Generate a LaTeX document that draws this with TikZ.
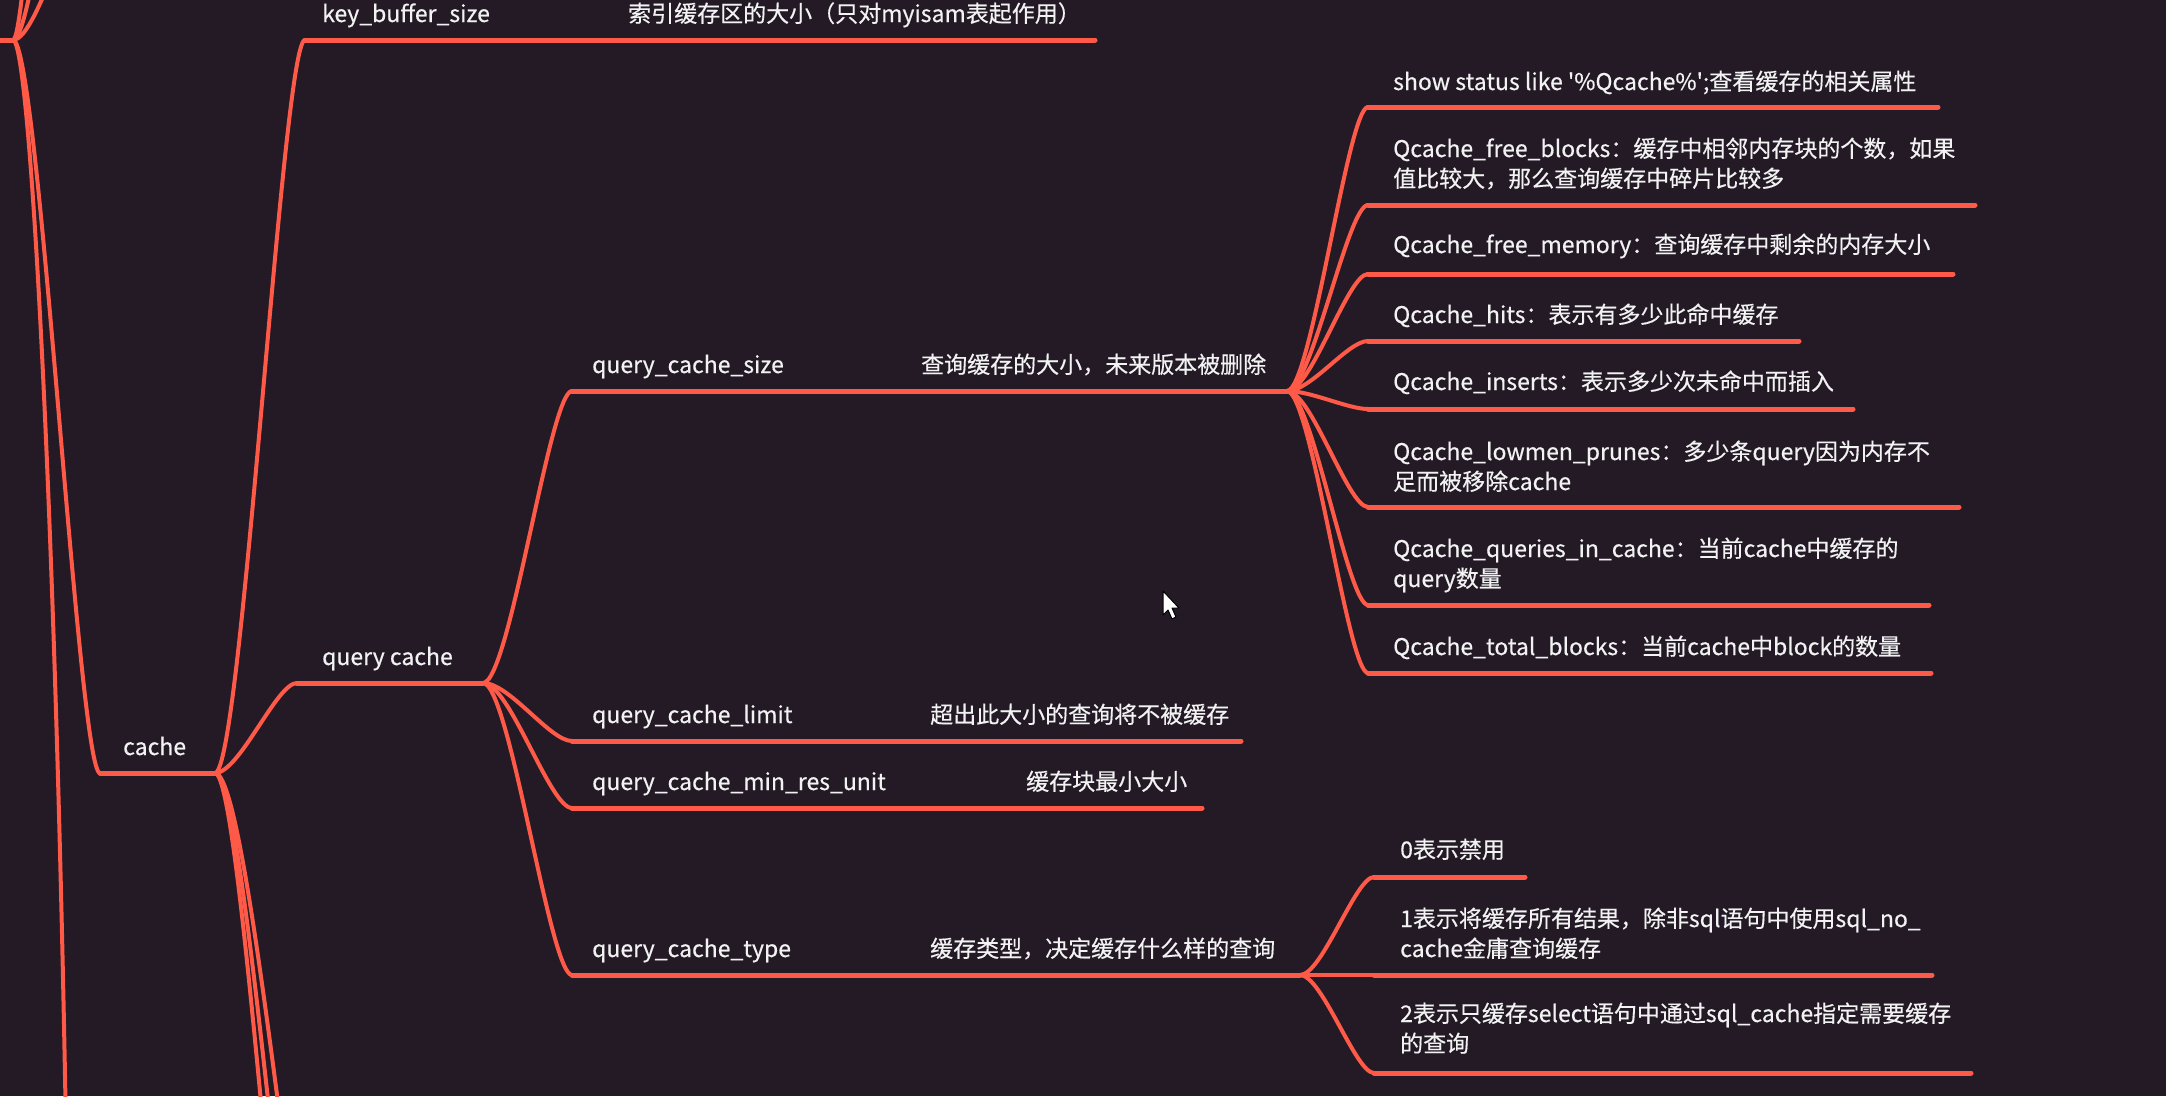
\documentclass[tikz,border=0pt]{standalone}
\usepackage{fontspec}
\setmainfont{Noto Sans CJK SC}[FakeBold=0.4]
\usetikzlibrary{calc}
\definecolor{bgc}{HTML}{231A26}
\definecolor{linec}{HTML}{FF5A48}
\definecolor{txtc}{HTML}{F2F2F2}
\tikzset{
  uline/.style={draw=linec, line width=5pt, line cap=round},
  branch/.style={draw=linec, line width=4pt, line cap=round},
  lbl/.style={anchor=base west, inner sep=0pt, text=txtc, font=\fontsize{23}{30}\selectfont},
}
\newcommand\mmcurve[2]{\draw[branch] (#1) .. controls ($(#1)!0.3!(#2|-#1)$) and ($(#2)!0.25!(#1|-#2)$) .. (#2);}
\newcommand\twoline[2]{\begin{tabular}[t]{@{}l@{}}#1\\#2\end{tabular}}
\begin{document}
\begin{tikzpicture}[x=1pt,y=-1pt]
\useasboundingbox (0,0) rectangle (2166,1096);
\fill[bgc] (0,0) rectangle (2166,1096);
\clip (0,0) rectangle (2166,1096);

% parent (off screen) and its siblings
\coordinate (p0) at (-10,40);
\coordinate (pe) at (13,40);
\draw[uline] (p0) -- (pe);
\coordinate (up1) at (60,-400);
\coordinate (up2) at (80,-250);
\coordinate (up3) at (100,-120);
\mmcurve{pe}{up1}
\mmcurve{pe}{up2}
\mmcurve{pe}{up3}
\coordinate (dn1) at (66,1130);
\draw[branch] (pe) .. controls +(17,0) and +(-11,-630) .. (dn1);

% cache
\coordinate (cs) at (100,773);
\coordinate (ce) at (215,773);
\mmcurve{pe}{cs}
\draw[uline] (cs) -- (ce);
\node[lbl] (cache) at (123,755) {cache};
\coordinate (dc1) at (310,1500);
\coordinate (dc2) at (325,1500);
\coordinate (dc3) at (345,1500);
\mmcurve{ce}{dc1}
\mmcurve{ce}{dc2}
\mmcurve{ce}{dc3}

% key_buffer_size
\coordinate (ks) at (305,40);
\coordinate (ke) at (1095,40);
\mmcurve{ce}{ks}
\draw[uline] (ks) -- (ke);
\node[lbl] (kbs) at (322,22) {key\_buffer\_size};
\node[lbl] (kbsd) at (628,22) {索引缓存区的大小（只对myisam表起作用）};

% query cache
\coordinate (qs) at (297,683);
\coordinate (qe) at (483,683);
\mmcurve{ce}{qs}
\draw[uline] (qs) -- (qe);
\node[lbl] (qc) at (322,665) {query cache};

% query cache children
\coordinate (qss) at (572,391); \coordinate (qse) at (1287,391);
\coordinate (qls) at (572,741); \coordinate (qle) at (1241,741);
\coordinate (qms) at (572,808); \coordinate (qme) at (1202,808);
\coordinate (qts) at (572,975); \coordinate (qte) at (1300,975);
\foreach \s/\e in {qss/qse,qls/qle,qms/qme,qts/qte}{
  \mmcurve{qe}{\s}
  \draw[uline] (\s) -- (\e);
}
\node[lbl] (qcs) at (592,373) {query\_cache\_size};
\node[lbl] (qcsd) at (921,373) {查询缓存的大小，未来版本被删除};
\node[lbl] (qcl) at (592,723) {query\_cache\_limit};
\node[lbl] (qcld) at (930,723) {超出此大小的查询将不被缓存};
\node[lbl] (qcm) at (592,790) {query\_cache\_min\_res\_unit};
\node[lbl] (qcmd) at (1026,790) {缓存块最小大小};
\node[lbl] (qct) at (592,957) {query\_cache\_type};
\node[lbl] (qctd) at (930,957) {缓存类型，决定缓存什么样的查询};

% query_cache_size children
\coordinate (a1s) at (1368,107); \coordinate (a1e) at (1938,107);
\coordinate (a2s) at (1368,205); \coordinate (a2e) at (1975,205);
\coordinate (a3s) at (1368,274); \coordinate (a3e) at (1953,274);
\coordinate (a4s) at (1368,341); \coordinate (a4e) at (1799,341);
\coordinate (a5s) at (1368,409); \coordinate (a5e) at (1853,409);
\coordinate (a6s) at (1368,507); \coordinate (a6e) at (1959,507);
\coordinate (a7s) at (1368,605); \coordinate (a7e) at (1929,605);
\coordinate (a8s) at (1368,673); \coordinate (a8e) at (1931,673);
\foreach \i in {1,...,8}{
  \mmcurve{qse}{a\i s}
  \draw[uline] (a\i s) -- (a\i e);
}
\node[lbl] (a1) at (1393,90) {show status like \textquotesingle\%Qcache\%\textquotesingle;查看缓存的相关属性};
\node[lbl] (a2) at (1393,157) {\twoline{Qcache\_free\_blocks：缓存中相邻内存块的个数，如果}{值比较大，那么查询缓存中碎片比较多}};
\node[lbl] (a3) at (1393,253) {Qcache\_free\_memory：查询缓存中剩余的内存大小};
\node[lbl] (a4) at (1393,323) {Qcache\_hits：表示有多少此命中缓存};
\node[lbl] (a5) at (1393,390) {Qcache\_inserts：表示多少次未命中而插入};
\node[lbl] (a6) at (1393,460) {\twoline{Qcache\_lowmen\_prunes：多少条query因为内存不}{足而被移除cache}};
\node[lbl] (a7) at (1393,557) {\twoline{Qcache\_queries\_in\_cache：当前cache中缓存的}{query数量}};
\node[lbl] (a8) at (1393,655) {Qcache\_total\_blocks：当前cache中block的数量};

% query_cache_type children
\coordinate (b1s) at (1374,877); \coordinate (b1e) at (1525,877);
\coordinate (b2s) at (1374,975); \coordinate (b2e) at (1932,975);
\coordinate (b3s) at (1374,1073); \coordinate (b3e) at (1971,1073);
\foreach \i in {1,2,3}{
  \mmcurve{qte}{b\i s}
  \draw[uline] (b\i s) -- (b\i e);
}
\node[lbl] (b1) at (1400,858) {0表示禁用};
\node[lbl] (b2) at (1400,927) {\twoline{1表示将缓存所有结果，除非sql语句中使用sql\_no\_}{cache金庸查询缓存}};
\node[lbl] (b3) at (1400,1022) {\twoline{2表示只缓存select语句中通过sql\_cache指定需要缓存}{的查询}};

% mouse pointer
\draw[fill=white, draw=black, line width=1pt, line join=round]
  (1163,591) -- ++(0,24) -- ++(5,-5) -- ++(4,9) -- ++(4,-2) -- ++(-4,-9) -- ++(7,0) -- cycle;
\end{tikzpicture}
\end{document}
